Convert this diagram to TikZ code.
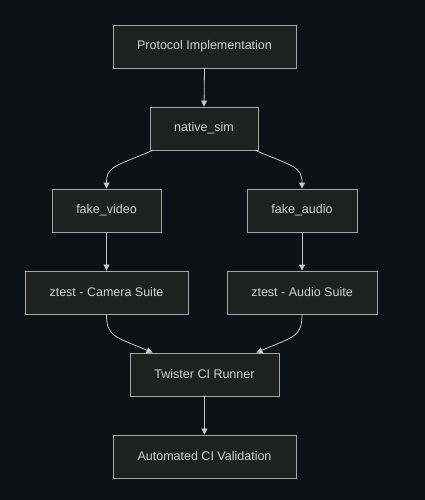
\documentclass[tikz,border=0pt]{standalone}
\usepackage{fontspec}
\setmainfont{Liberation Sans}
\usetikzlibrary{arrows.meta}
\definecolor{bgc}{RGB}{13,16,23}
\definecolor{boxfill}{RGB}{31,32,32}
\definecolor{boxline}{RGB}{165,165,165}
\definecolor{txtc}{RGB}{210,210,210}
\definecolor{edgec}{RGB}{200,200,200}
\tikzset{
  box/.style={draw=boxline, fill=boxfill, line width=0.9pt, text=txtc,
    minimum height=43pt, inner sep=0pt, font=\fontsize{12.5}{15}\selectfont},
  edge/.style={draw=edgec, line width=0.8pt, -{Triangle[width=6pt,length=6pt]}}
}
\begin{document}
\begin{tikzpicture}[x=1pt,y=-1pt]
\fill[bgc] (0,0) rectangle (425,500);
\useasboundingbox (0,0) rectangle (425,500);
\node[box, minimum width=183pt] (pi) at (204.5,46.5) {Protocol Implementation};
\node[box, minimum width=108pt] (ns) at (204,128.5) {native\_sim};
\node[box, minimum width=109pt] (fv) at (106.5,210.5) {fake\_video};
\node[box, minimum width=110pt] (fa) at (302,210.5) {fake\_audio};
\node[box, minimum width=163pt] (cs) at (106.5,292.5) {ztest - Camera Suite};
\node[box, minimum width=150pt] (as) at (302,292.5) {ztest - Audio Suite};
\node[box, minimum width=149pt] (tw) at (204.5,374.5) {Twister CI Runner};
\node[box, minimum width=183pt] (av) at (204.5,456.5) {Automated CI Validation};
\draw[edge] (pi.south) -- (ns.north);
\draw[edge] ([xshift=3pt]ns.south west) .. controls +(-38,16) and +(0,-22) .. (fv.north);
\draw[edge] ([xshift=-3pt]ns.south east) .. controls +(38,16) and +(0,-22) .. (fa.north);
\draw[edge] (fv.south) -- (cs.north);
\draw[edge] (fa.south) -- (as.north);
\draw[edge] (cs.south) .. controls +(0,22) and +(-38,-16) .. ([xshift=23pt]tw.north west);
\draw[edge] (as.south) .. controls +(0,22) and +(38,-16) .. ([xshift=-23pt]tw.north east);
\draw[edge] (tw.south) -- (av.north);
\end{tikzpicture}
\end{document}
